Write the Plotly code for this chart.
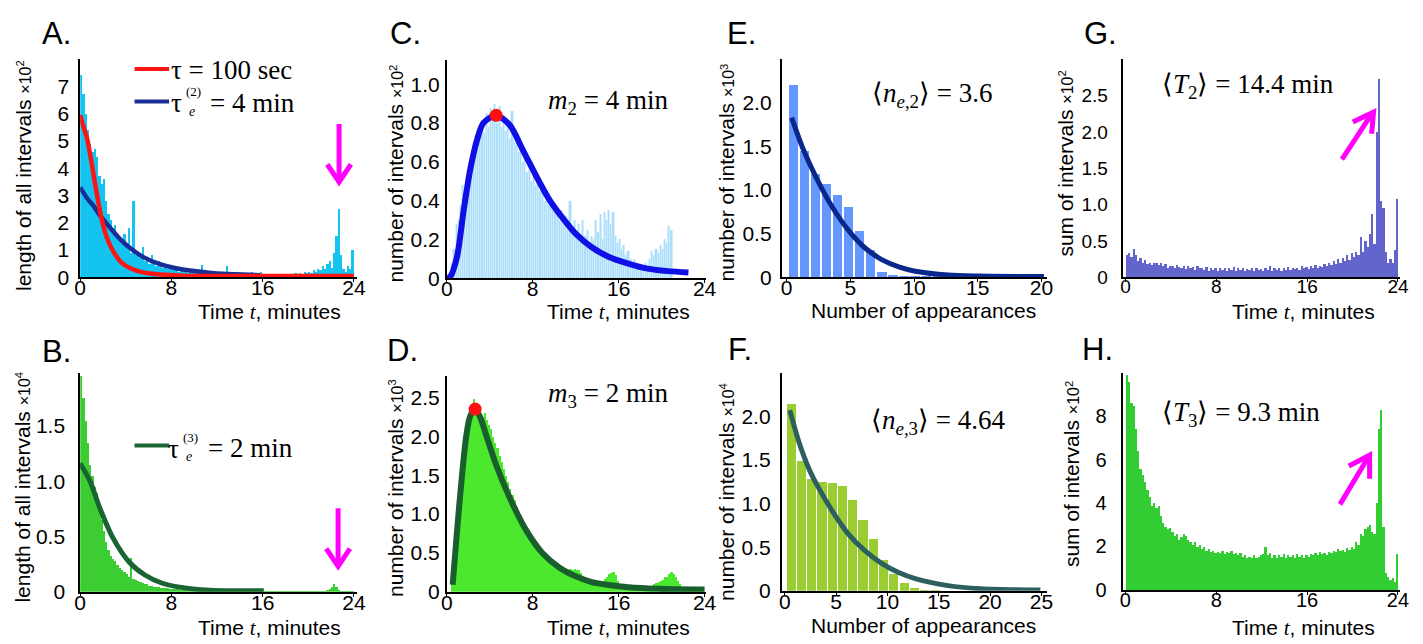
import plotly.graph_objects as go

W, H = 1423, 644

# ---------------- data ----------------
BIN = 0.2  # minutes per histogram bin

A_vals = [7.4, 6.7, 6.0, 5.4, 4.9, 4.6, 4.7, 4.4, 3.7, 3.4,
          3.6, 2.8, 2.3, 2.1, 1.8, 1.9, 1.5, 1.4, 1.2, 1.6,
          1.1, 1.8, 0.9, 2.8, 0.8, 0.9, 0.7, 1.1, 0.6, 0.7,
          0.5, 0.8, 0.5, 0.4, 0.6, 0.4, 0.35, 0.5, 0.3, 0.35,
          0.3, 0.25, 0.35, 0.2, 0.3, 0.2, 0.25, 0.15, 0.2, 0.3,
          0.15, 0.2, 0.15, 0.45, 0.15, 0.2, 0.1, 0.15, 0.2, 0.1,
          0.15, 0.1, 0.2, 0.1, 0.4, 0.1, 0.15, 0.1, 0.2, 0.1,
          0.15, 0.1, 0.1, 0.15, 0.1, 0.2, 0.1, 0.15, 0.1, 0.2,
          0.1, 0.05, 0.1, 0.05, 0.1, 0.05, 0.1, 0.05, 0.1, 0.05,
          0.1, 0.1, 0.05, 0.1, 0.15, 0.1, 0.15, 0.1, 0.2, 0.15,
          0.2, 0.15, 0.25, 0.2, 0.3, 0.25, 0.4, 0.3, 0.5, 0.6,
          0.35, 0.9, 1.5, 2.5, 0.8, 0.3, 0.2, 0.4, 0.3, 1.0]
A_red_t = [0, 0.3, 0.6, 1.0, 1.4, 1.85, 2.3, 2.9, 3.6, 4.4, 5.5, 7.0, 9.0, 14, 24]
A_red_y = [5.95, 5.5, 5.1, 4.2, 3.2, 2.2, 1.5, 0.95, 0.55, 0.33, 0.18, 0.1, 0.06, 0.05, 0.05]
A_blue_t = [0, 0.6, 1.2, 1.76, 2.6, 3.5, 4.1, 5.5, 7.0, 8.4, 10, 11.3, 12.5, 14.2, 15.8]
A_blue_y = [3.3, 2.9, 2.6, 2.25, 1.83, 1.4, 1.17, 0.75, 0.48, 0.33, 0.23, 0.17, 0.13, 0.1, 0.08]

B_vals = [1.95, 1.75, 1.55, 1.35, 1.15, 1.05, 0.95, 0.9, 0.75, 0.65,
          0.55, 0.45, 0.38, 0.33, 0.3, 0.28, 0.25, 0.22, 0.2, 0.18,
          0.16, 0.14, 0.31, 0.12, 0.11, 0.1, 0.09, 0.08, 0.07, 0.07,
          0.06, 0.06, 0.05, 0.05, 0.045, 0.04, 0.04, 0.035, 0.035, 0.03,
          0.03, 0.028, 0.026, 0.025, 0.024, 0.022, 0.02, 0.02, 0.019, 0.018,
          0.018, 0.017, 0.016, 0.015, 0.015, 0.014, 0.014, 0.013, 0.013, 0.012,
          0.012, 0.012, 0.011, 0.011, 0.011, 0.01, 0.01, 0.01, 0.01, 0.01,
          0.01, 0.01, 0.01, 0.01, 0.01, 0.01, 0.01, 0.01, 0.01, 0.01,
          0.008, 0.008, 0.008, 0.008, 0.008, 0.008, 0.008, 0.008, 0.008, 0.008,
          0.008, 0.008, 0.008, 0.008, 0.008, 0.008, 0.008, 0.008, 0.008, 0.008,
          0.008, 0.008, 0.008, 0.009, 0.01, 0.01, 0.012, 0.015, 0.02, 0.03,
          0.05, 0.075, 0.05, 0.02, 0.01, 0.008, 0.008, 0.008, 0.01, 0.012]
B_fit_t = [0, 0.86, 1.71, 2.86, 4.29, 5.71, 7.14, 8.57, 11.4, 16.1]
B_fit_y = [1.16, 1.0, 0.76, 0.49, 0.27, 0.15, 0.08, 0.045, 0.015, 0.01]

C_vals = [0, 0.02, 0.08, 0.15, 0.28, 0.3, 0.38, 0.48, 0.45, 0.52,
          0.55, 0.6, 0.7, 0.74, 0.72, 0.76, 0.8, 0.75, 0.85, 0.78,
          0.88, 0.82, 0.9, 0.8, 0.89, 0.78, 0.84, 0.76, 0.8, 0.72,
          0.86, 0.7, 0.75, 0.65, 0.68, 0.6, 0.62, 0.55, 0.6, 0.5,
          0.55, 0.48, 0.52, 0.45, 0.47, 0.4, 0.45, 0.38, 0.42, 0.35,
          0.38, 0.33, 0.3, 0.35, 0.28, 0.32, 0.27, 0.4, 0.25, 0.3,
          0.22, 0.28, 0.2, 0.3, 0.22, 0.25, 0.18, 0.22, 0.2, 0.3,
          0.24, 0.33, 0.2, 0.34, 0.3, 0.35, 0.28, 0.34, 0.22, 0.18,
          0.2, 0.15, 0.17, 0.12, 0.14, 0.1, 0.08, 0.1, 0.05, 0.07,
          0.04, 0.06, 0.08, 0.05, 0.1, 0.14, 0.12, 0.15, 0.13, 0.17,
          0.15, 0.2, 0.18, 0.27, 0.25]
C_fit_t = [0.0, 0.34, 0.95, 1.56, 2.18, 2.8, 3.4, 4.6, 5.86, 7.1, 8.3, 9.5,
           10.8, 12.0, 13.5, 15.1, 16.9, 18.7, 20.6, 22.5]
C_fit_y = [0, 0.01, 0.11, 0.345, 0.56, 0.71, 0.8, 0.84, 0.79, 0.66, 0.53, 0.41,
           0.31, 0.23, 0.16, 0.11, 0.076, 0.05, 0.037, 0.03]
C_peak = (4.6, 0.84)

D_vals = [0, 0, 0.3, 0.65, 1.1, 1.3, 1.65, 1.75, 2.0, 2.15,
          2.25, 2.35, 2.48, 2.4, 2.3, 2.28, 2.25, 2.3, 2.22, 2.15,
          2.1, 2.0, 1.92, 1.85, 1.75, 1.68, 1.58, 1.5, 1.42, 1.33,
          1.25, 1.18, 1.1, 1.02, 0.96, 0.88, 0.83, 0.78, 0.73, 0.68,
          0.63, 0.6, 0.55, 0.52, 0.48, 0.45, 0.42, 0.4, 0.37, 0.35,
          0.34, 0.32, 0.3, 0.28, 0.27, 0.27, 0.29, 0.3, 0.28, 0.3,
          0.29, 0.28, 0.25, 0.2, 0.18, 0.16, 0.15, 0.14, 0.13, 0.13,
          0.12, 0.12, 0.14, 0.17, 0.2, 0.24, 0.25, 0.26, 0.22, 0.15,
          0.1, 0.08, 0.07, 0.07, 0.06, 0.06, 0.05, 0.05, 0.05, 0.05,
          0.05, 0.05, 0.06, 0.06, 0.07, 0.08, 0.1, 0.12, 0.13, 0.15,
          0.16, 0.2, 0.2, 0.23, 0.26, 0.24, 0.2, 0.15, 0.1, 0.07,
          0.05, 0.05, 0.04, 0.04, 0.03, 0.03, 0.02, 0.02, 0.01, 0.01]
D_fit_t = [0.55, 1.2, 1.81, 2.18, 2.64, 3.1, 3.7, 4.6, 5.86, 7.4, 8.9, 10.5,
           12.0, 13.5, 15.1, 16.9, 19.7, 24]
D_fit_y = [0.09, 1.17, 2.0, 2.26, 2.35, 2.25, 2.0, 1.63, 1.21, 0.79, 0.5, 0.31,
           0.2, 0.126, 0.088, 0.06, 0.04, 0.03]
D_peak = (2.64, 2.35)

E_x = [0.49, 1.36, 2.23, 3.10, 3.97, 4.84, 5.71, 6.58, 7.45, 8.32, 9.19,
       10.06, 10.93, 11.8, 12.67, 13.54, 14.41, 15.28]
E_vals = [2.2, 1.45, 1.18, 1.07, 0.94, 0.80, 0.53, 0.31, 0.064, 0.03, 0.015,
          0.008, 0.005, 0.004, 0.003, 0.002, 0.002, 0.001]
E_fit_x = [0.39, 1.29, 2.33, 3.6, 4.9, 6.2, 7.5, 8.8, 10.1, 12.7, 15.2, 20.2]
E_fit_y = [1.83, 1.47, 1.14, 0.8, 0.53, 0.33, 0.2, 0.12, 0.07, 0.026, 0.015, 0.008]

F_x = [0.6, 1.6, 2.6, 3.6, 4.6, 5.6, 6.6, 7.6, 8.6, 9.6, 10.6, 11.6, 12.6, 13.6, 14.6]
F_vals = [2.14, 1.49, 1.29, 1.25, 1.24, 1.21, 1.05, 0.82, 0.60, 0.36, 0.20,
          0.09, 0.034, 0.015, 0.005]
F_fit_x = [0.48, 1.39, 2.35, 3.2, 4.6, 6.2, 7.8, 9.5, 11.1, 12.7, 15.9, 19.1, 24.9]
F_fit_y = [2.07, 1.7, 1.4, 1.2, 0.92, 0.65, 0.46, 0.31, 0.21, 0.14, 0.06, 0.025, 0.01]

G_vals = [0.3, 0.33, 0.28, 0.39, 0.3, 0.22, 0.26, 0.2, 0.24, 0.18,
          0.2, 0.17, 0.19, 0.2, 0.17, 0.2, 0.15, 0.18, 0.12, 0.16,
          0.15, 0.12, 0.17, 0.14, 0.12, 0.15, 0.11, 0.16, 0.12, 0.14,
          0.1, 0.15, 0.12, 0.13, 0.1, 0.14, 0.09, 0.12, 0.1, 0.13,
          0.08, 0.12, 0.1, 0.13, 0.09, 0.12, 0.1, 0.14, 0.09, 0.12,
          0.1, 0.13, 0.09, 0.11, 0.1, 0.13, 0.08, 0.12, 0.1, 0.11,
          0.09, 0.13, 0.1, 0.15, 0.09, 0.12, 0.1, 0.13, 0.09, 0.12,
          0.1, 0.14, 0.1, 0.12, 0.11, 0.13, 0.1, 0.16, 0.12, 0.14,
          0.11, 0.15, 0.13, 0.17, 0.13, 0.16, 0.14, 0.18, 0.15, 0.2,
          0.17, 0.22, 0.18, 0.25, 0.2, 0.26, 0.22, 0.3, 0.24, 0.33,
          0.28, 0.35, 0.3, 0.55, 0.35, 0.5, 0.42, 0.6, 0.87, 0.45,
          2.0, 2.73, 1.05, 0.95, 0.35, 0.2, 0.25, 0.2, 0.38, 1.08]

H_vals = [9.9, 9.6, 8.6, 8.5, 7.4, 6.4, 5.6, 5.3, 5.0, 4.6,
          4.3, 3.9, 4.0, 3.8, 3.9, 3.4, 3.1, 2.9, 2.8, 2.85,
          2.7, 2.5, 2.6, 2.3, 2.45, 2.6, 2.5, 2.3, 2.2, 2.1,
          2.2, 2.0, 2.1, 1.9, 2.0, 1.8, 1.9, 1.75, 1.8, 1.7,
          1.75, 1.7, 1.8, 1.65, 1.75, 1.7, 1.8, 1.65, 1.7, 1.6,
          1.7, 1.55, 1.6, 1.5, 1.55, 1.5, 1.6, 1.5, 1.55, 1.6,
          1.65, 2.0, 1.6, 1.7, 1.5, 1.6, 1.5, 1.6, 1.55, 1.65,
          1.5, 1.6, 1.55, 1.6, 1.5, 1.65, 1.55, 1.6, 1.5, 1.6,
          1.55, 1.65, 1.6, 1.7, 1.6, 1.75, 1.65, 1.7, 1.6, 1.75,
          1.7, 1.8, 1.75, 1.9, 1.8, 1.85, 1.75, 1.95, 1.85, 2.0,
          1.9, 2.2, 2.1, 2.6, 2.5, 2.8, 2.9, 3.0, 2.7, 2.6,
          4.0, 7.4, 8.3, 2.9, 0.8, 0.6, 0.45, 0.55, 0.4, 1.65]


def centers(vals):
    return [round(BIN * i + BIN / 2, 3) for i in range(len(vals))]


# ---------------- helpers ----------------
def X(px):
    return px / W


def Y(py):
    return 1 - py / H


SANS = "Liberation Sans, Arial, sans-serif"
SERIF = "Liberation Serif, Times New Roman, serif"

# panel geometry in pixels: (x0, x1, ytop, ybottom); ys = y tick label standoff; fs = tick font
panels = {
    1: dict(box=(67, 347, 52, 274), xr=[0, 24.26], yr=[0, 8.0], xt=[0, 8, 16, 24],
            yt=[0, 1, 2, 3, 4, 5, 6, 7], ytt=None, ys=5, fs=21),
    2: dict(box=(67, 347, 371, 594), xr=[0, 24.26], yr=[0, 1.98], xt=[0, 8, 16, 24],
            yt=[0, 0.5, 1.0, 1.5], ytt=["0", "0.5", "1.0", "1.5"], ys=9, fs=21),
    3: dict(box=(438, 700, 53, 275), xr=[0, 24.1], yr=[0, 1.125], xt=[0, 8, 16, 24],
            yt=[0, 0.2, 0.4, 0.6, 0.8, 1.0], ytt=["0", "0.2", "0.4", "0.6", "0.8", "1.0"],
            ys=1, fs=21),
    4: dict(box=(438, 700, 374, 594), xr=[0, 24.1], yr=[0, 2.78], xt=[0, 8, 16, 24],
            yt=[0, 0.5, 1.0, 1.5, 2.0, 2.5], ytt=["0", "0.5", "1.0", "1.5", "2.0", "2.5"],
            ys=1, fs=21),
    5: dict(box=(777, 1045, 52, 274), xr=[-0.39, 20.4], yr=[0, 2.5], xt=[0, 5, 10, 15, 20],
            yt=[0, 0.5, 1.0, 1.5, 2.0], ytt=["0", "0.5", "1.0", "1.5", "2.0"], ys=4, fs=21),
    6: dict(box=(777, 1045, 371, 593), xr=[-0.3, 25.5], yr=[0, 2.5], xt=[0, 5, 10, 15, 20, 25],
            yt=[0, 0.5, 1.0, 1.5, 2.0], ytt=["0", "0.5", "1.0", "1.5", "2.0"], ys=5, fs=21),
    7: dict(box=(1122, 1403, 52, 274), xr=[-0.25, 24.2], yr=[0, 3.0], xt=[0, 8, 16, 24],
            yt=[0, 0.5, 1.0, 1.5, 2.0, 2.5], ytt=["0", "0.5", "1.0", "1.5", "2.0", "2.5"],
            ys=9, fs=19),
    8: dict(box=(1122, 1403, 371, 592), xr=[-0.25, 24.2], yr=[0, 10], xt=[0, 8, 16, 24],
            yt=[0, 2, 4, 6, 8], ytt=None, ys=10, fs=20),
}

fig = go.Figure()


def ax(k):
    return ("x" if k == 1 else f"x{k}"), ("y" if k == 1 else f"y{k}")


def bar(k, x, y, color, width, line=None):
    xa, ya = ax(k)
    fig.add_trace(go.Bar(x=x, y=y, width=width, marker=dict(color=color,
                  line=line or dict(width=0)), xaxis=xa, yaxis=ya, hoverinfo="skip"))


def curve(k, x, y, color, w):
    xa, ya = ax(k)
    fig.add_trace(go.Scatter(x=x, y=y, mode="lines", line=dict(color=color, width=w, shape="spline",
                  smoothing=0.8), xaxis=xa, yaxis=ya, hoverinfo="skip"))


def dot(k, pt):
    xa, ya = ax(k)
    fig.add_trace(go.Scatter(x=[pt[0]], y=[pt[1]], mode="markers",
                  marker=dict(color="#ff1010", size=13), xaxis=xa, yaxis=ya, hoverinfo="skip"))


# A
bar(1, centers(A_vals), A_vals, "rgb(20,195,240)", BIN)
curve(1, A_blue_t, A_blue_y, "rgb(25,45,150)", 4.5)
curve(1, A_red_t, A_red_y, "rgb(255,20,20)", 4.5)
# B
bar(2, centers(B_vals), B_vals, "rgb(60,205,50)", BIN)
curve(2, B_fit_t, B_fit_y, "rgb(25,100,50)", 5)
# C
bar(3, centers(C_vals), C_vals, "rgb(170,222,250)", BIN, dict(width=0.4, color="rgb(225,240,252)"))
curve(3, C_fit_t, C_fit_y, "rgb(15,15,230)", 6)
dot(3, C_peak)
# D
bar(4, centers(D_vals), D_vals, "rgb(75,232,45)", BIN)
curve(4, D_fit_t, D_fit_y, "rgb(25,95,45)", 6)
dot(4, D_peak)
# E
bar(5, E_x, E_vals, "rgb(100,152,255)", 0.74)
curve(5, E_fit_x, E_fit_y, "rgb(10,40,140)", 5)
# F
bar(6, F_x, F_vals, "rgb(154,205,50)", 0.9)
curve(6, F_fit_x, F_fit_y, "rgb(45,95,95)", 5)
# G
bar(7, centers(G_vals), G_vals, "rgb(100,100,205)", BIN)
# H
bar(8, centers(H_vals), H_vals, "rgb(50,205,50)", BIN)

layout = dict(width=W, height=H, margin=dict(l=0, r=0, t=0, b=0), showlegend=False,
              paper_bgcolor="white", plot_bgcolor="white", bargap=0)
for k, p in panels.items():
    x0, x1, yt, yb = p["box"]
    xk = "xaxis" if k == 1 else f"xaxis{k}"
    yk = "yaxis" if k == 1 else f"yaxis{k}"
    layout[xk] = dict(domain=[X(x0), X(x1)], range=p["xr"], anchor=ax(k)[1],
                      showline=True, linecolor="black", linewidth=1.5, showgrid=False,
                      zeroline=False, ticks="outside", ticklen=3, tickcolor="black",
                      tickvals=p["xt"], ticktext=[str(v) for v in p["xt"]],
                      ticklabelstandoff=-12,
                      tickfont=dict(family=SANS, size=p["fs"], color="black"), fixedrange=True)
    ytt = p["ytt"] if p["ytt"] else [str(v) for v in p["yt"]]
    layout[yk] = dict(domain=[Y(yb), Y(yt)], range=p["yr"], anchor=ax(k)[0],
                      showline=True, linecolor="black", linewidth=1.8, showgrid=False,
                      zeroline=False, ticks="", tickvals=p["yt"], ticktext=ytt,
                      ticklabelstandoff=p["ys"],
                      tickfont=dict(family=SANS, size=p["fs"], color="black"), fixedrange=True)
fig.update_layout(**layout)

ann = []


def txt(text, px, py, size, family=SANS, xanchor="center", angle=0, yanchor="middle"):
    ann.append(dict(text=text, x=X(px), y=Y(py), xref="paper", yref="paper", showarrow=False,
                    xanchor=xanchor, yanchor=yanchor, textangle=angle,
                    font=dict(family=family, size=size, color="black")))


# panel letters
for L, (px, py) in {"A.": (43, 26), "C.": (396, 26), "E.": (736, 26), "G.": (1100, 26),
                    "B.": (43, 349), "D.": (393, 348), "F.": (735, 347), "H.": (1097, 347)}.items():
    txt(L, px, py, 31)

tt = "Time <span style='font-family:Liberation Serif'><i>t</i></span>, minutes"
for px, py in [(259, 309), (259, 631), (612, 309), (612, 631), (1305, 309), (1305, 631)]:
    txt(tt, px, py, 21)
for px, py in [(920, 308), (920, 628)]:
    txt("Number of appearances", px, py, 21)


def ytitle(main, exp):
    return main + " <span style='font-size:16px'>×10<sup>" + exp + "</sup></span>"


txt(ytitle("length of all intervals", "2"), 9, 170, 21, angle=-90)
txt(ytitle("length of all intervals", "4"), 9, 487, 21, angle=-90)
txt(ytitle("number of intervals", "2"), 386, 168, 21, angle=-90)
txt(ytitle("number of intervals", "3"), 386, 488, 21, angle=-90)
txt(ytitle("number of intervals", "3"), 721, 167, 21, angle=-90)
txt(ytitle("number of intervals", "4"), 721, 492, 21, angle=-90)
txt(ytitle("sum of intervals", "2"), 1064, 158, 21, angle=-90)
txt(ytitle("sum of intervals", "2"), 1071, 474, 21, angle=-90)

# legend-like labels
txt("τ = 100 sec", 157, 63, 27, SERIF, xanchor="left")
txt("τ", 157, 97, 27, SERIF, xanchor="left")
txt("(2)", 172, 85, 13, SERIF, xanchor="left")
txt("<i>e</i>", 175, 105, 14, SERIF, xanchor="left")
txt("= 4 min", 196, 97, 27, SERIF, xanchor="left")
txt("τ", 154, 449, 27, SERIF, xanchor="left")
txt("(3)", 169, 437, 13, SERIF, xanchor="left")
txt("<i>e</i>", 172, 456, 14, SERIF, xanchor="left")
txt("= 2 min", 194, 448, 27, SERIF, xanchor="left")

txt("<i>m</i><sub>2</sub> = 4 min", 538, 96, 27, SERIF, xanchor="left")
txt("<i>m</i><sub>3</sub> = 2 min", 538, 394, 27, SERIF, xanchor="left")
txt("⟨<i>n</i><sub><i>e</i>,2</sub>⟩ = 3.6", 866, 89, 27, SERIF, xanchor="left")
txt("⟨<i>n</i><sub><i>e</i>,3</sub>⟩ = 4.64", 865, 421, 27, SERIF, xanchor="left")
txt("⟨<i>T</i><sub>2</sub>⟩ = 14.4 min", 1160, 79, 27, SERIF, xanchor="left")
txt("⟨<i>T</i><sub>3</sub>⟩ = 9.3 min", 1160, 413, 27, SERIF, xanchor="left")

fig.update_layout(annotations=ann)

shapes = []


def seg(p, q, color, w):
    shapes.append(dict(type="line", xref="paper", yref="paper", x0=X(p[0]), y0=Y(p[1]),
                       x1=X(q[0]), y1=Y(q[1]), line=dict(color=color, width=w)))


def chevron(a, tip, b, color, w):
    path = f"M {X(a[0])},{Y(a[1])} L {X(tip[0])},{Y(tip[1])} L {X(b[0])},{Y(b[1])}"
    shapes.append(dict(type="path", xref="paper", yref="paper", path=path,
                       line=dict(color=color, width=w)))


# legend line samples
seg((122, 62), (157, 62), "rgb(255,20,20)", 4)
seg((122, 95), (157, 95), "rgb(25,45,150)", 4)
seg((122, 445), (157, 445), "rgb(25,100,50)", 4)

MAG = "#ff00ff"
seg((329, 118), (329, 175), MAG, 5)
chevron((317, 159), (329, 177), (341, 159), MAG, 5)
seg((328, 509), (328, 566), MAG, 5)
chevron((316, 550), (328, 568), (340, 550), MAG, 5)
seg((1344, 154), (1374, 108), MAG, 5)
chevron((1355, 116), (1376, 106), (1374, 128), MAG, 5)
seg((1342, 505), (1370, 458), MAG, 5)
chevron((1351, 466), (1372, 455), (1372, 479), MAG, 5)

fig.update_layout(shapes=shapes)
fig.write_html("out.html")
